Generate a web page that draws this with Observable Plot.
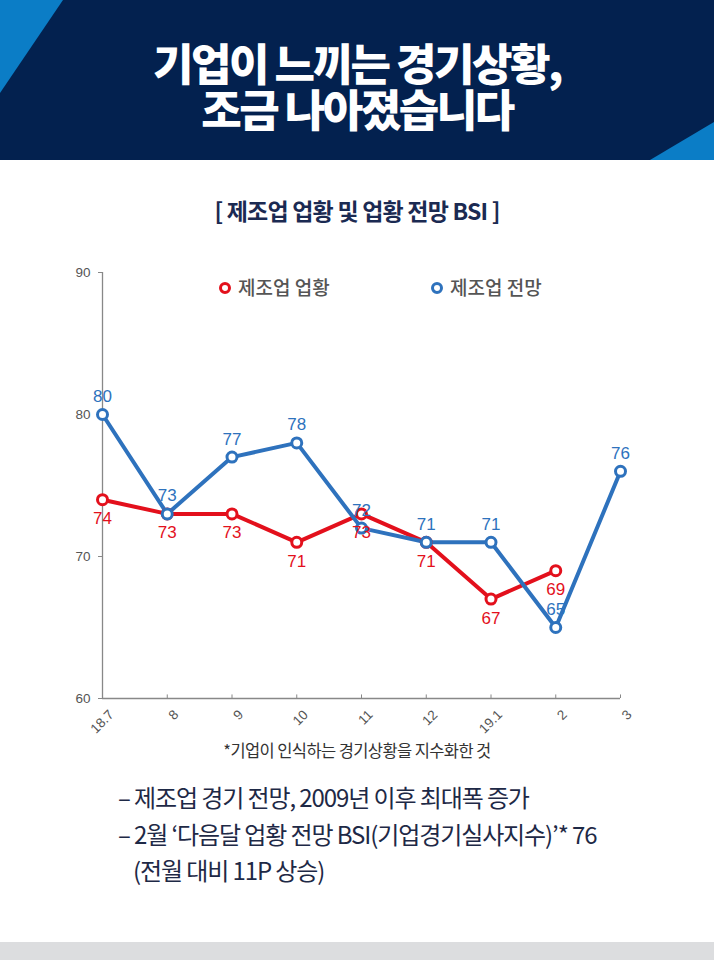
<!DOCTYPE html>
<html><head><meta charset="utf-8">
<script src="https://cdn.jsdelivr.net/npm/d3@7"></script>
<script src="https://cdn.jsdelivr.net/npm/@observablehq/plot@0.6"></script>
<style>
html,body{margin:0;padding:0;background:#fff;}
#page{position:relative;width:714px;height:960px;overflow:hidden;font-family:"Noto Sans CJK KR","Noto Sans",sans-serif;}
#header{position:absolute;left:0;top:0;width:714px;height:160px;background:#03214f;}
#title{position:absolute;left:0;top:39px;width:714px;text-align:center;color:#fff;font-weight:900;font-size:44px;letter-spacing:-2.5px;line-height:46px;}
#sub{position:absolute;left:0;top:196px;width:714px;text-align:center;color:#1b2a52;font-weight:700;font-size:23px;letter-spacing:-0.8px;line-height:28px;}
#chart{position:absolute;left:0;top:250px;}
.leg{position:absolute;top:275px;font-size:19px;font-weight:500;color:#555;line-height:24px;}
#note{position:absolute;left:0;top:739px;width:714px;text-align:center;color:#333;font-size:16.5px;letter-spacing:-0.6px;line-height:22px;}
.bl{position:absolute;left:118px;color:#1e2946;font-size:24px;letter-spacing:-1.1px;line-height:24px;}
#foot{position:absolute;left:0;top:942px;width:714px;height:18px;background:#dcdddf;}
</style></head>
<body><div id="page">
<div id="header">
<svg width="714" height="160" style="position:absolute;left:0;top:0">
<polygon points="0,0 63,0 0,93" fill="#0b7dc6"/>
<polygon points="714,122 714,160 650,160" fill="#0b7dc6"/>
</svg>
<div id="title">기업이 느끼는 경기상황,<br>조금 나아졌습니다</div>
</div>
<div id="sub">[ 제조업 업황 및 업황 전망 BSI ]</div>
<div id="chart"></div>
<div class="leg" style="left:216px"><svg width="22" height="20" style="vertical-align:-3px"><circle cx="9" cy="10" r="4.5" fill="#fff" stroke="#e3101c" stroke-width="3"/></svg>제조업 업황</div>
<div class="leg" style="left:428px"><svg width="22" height="20" style="vertical-align:-3px"><circle cx="9" cy="10" r="4.5" fill="#fff" stroke="#2e72bd" stroke-width="3"/></svg>제조업 전망</div>
<div id="note">*기업이 인식하는 경기상황을 지수화한 것</div>
<div class="bl" style="top:785px">– 제조업 경기 전망, 2009년 이후 최대폭 증가</div>
<div class="bl" style="top:822px">– 2월 ‘다음달 업황 전망 BSI(기업경기실사지수)’* 76</div>
<div class="bl" style="top:858px;left:133px">(전월 대비 11P 상승)</div>
<div id="foot"></div>
</div>
<script>
const months = ["18.7","8","9","10","11","12","19.1","2","3"];
const current = [74,73,73,71,73,71,67,69];       // 제조업 업황
const outlook = [80,73,77,78,72,71,71,65,76];    // 제조업 전망
const yTicks = [60,70,80,90];
const RED = "#e3101c", BLUE = "#2e72bd";

const cur = current.map((v,i)=>({m:months[i], v}));
const out = outlook.map((v,i)=>({m:months[i], v}));

const chart = Plot.plot({
  width: 714, height: 490,
  marginTop: 22, marginBottom: 42, marginLeft: 102, marginRight: 94,
  style: {fontFamily: "Liberation Sans, Arial, sans-serif", fontSize: "13.5px", background: "transparent", overflow: "visible"},
  x: {type: "point", domain: months, padding: 0, round: false, label: null},
  y: {domain: [60, 90], ticks: yTicks, label: null},
  marks: [
    Plot.axisY({ticks: yTicks, tickSize: 4, tickPadding: 8, fontSize: 13.5, color: "#555", stroke: "#888"}),
    Plot.axisX({tickSize: 0, tickRotate: -45, tickPadding: 6, fontSize: 13.5, color: "#555", dx: 9, dy: 8}),
    Plot.ruleX([months[0]], {stroke: "#888", strokeWidth: 1.3}),
    Plot.ruleY([60], {stroke: "#888", strokeWidth: 1.3}),
    Plot.ruleX(months, {x: d=>d, y1: 60, y2: 60.25, stroke: "#888"}),
    Plot.line(cur, {x: "m", y: "v", stroke: RED, strokeWidth: 4}),
    Plot.line(out, {x: "m", y: "v", stroke: BLUE, strokeWidth: 4}),
    Plot.dot(cur, {x: "m", y: "v", r: 5, fill: "#fff", stroke: RED, strokeWidth: 3}),
    Plot.dot(out, {x: "m", y: "v", r: 5, fill: "#fff", stroke: BLUE, strokeWidth: 3}),
    Plot.text(out, {x: "m", y: "v", text: d=>String(d.v), dy: -18, fill: BLUE, fontSize: 17}),
    Plot.text(cur, {x: "m", y: "v", text: d=>String(d.v), dy: 19, fill: RED, fontSize: 17})
  ]
});
document.getElementById("chart").appendChild(chart);
</script>
</body></html>
